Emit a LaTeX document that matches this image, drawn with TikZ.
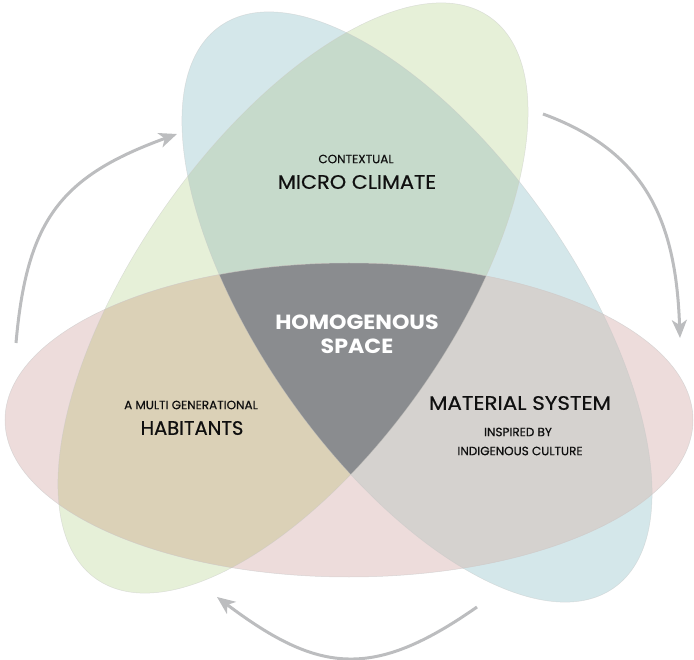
\documentclass[tikz,border=0pt]{standalone}
\usepackage{fontspec}
\setmainfont{Poppins}
\newfontfamily\medfont{Poppins}[FakeBold=0.5]
\usetikzlibrary{arrows.meta}
\definecolor{cBlue}{RGB}{212,231,234}
\definecolor{cGreen}{RGB}{230,240,216}
\definecolor{cPink}{RGB}{237,220,219}
\definecolor{cBG}{RGB}{198,218,203}
\definecolor{cGP}{RGB}{219,209,183}
\definecolor{cBP}{RGB}{213,210,207}
\definecolor{cAll}{RGB}{138,140,143}
\definecolor{cArrow}{RGB}{188,189,191}
\definecolor{cText}{RGB}{15,15,15}
\begin{document}
\begin{tikzpicture}[x=1pt,y=1pt,
  blueE/.style={rotate around={-55:(417,-307)}},
  greenE/.style={rotate around={55:(293,-298)}},
  edge/.style={draw=black!22,line width=0.5pt},
  arr/.style={draw=cArrow,line width=3pt,-{Stealth[length=18pt,width=15pt,inset=5pt]}},
  small/.style={text=cText,font=\medfont\fontsize{12}{14}\selectfont},
  big/.style={text=cText,font=\medfont\fontsize{19.5}{22}\selectfont},
  center/.style={text=white,font=\bfseries\fontsize{20.5}{23}\selectfont}]
\useasboundingbox (0,0) rectangle (694,-660);
% single regions
\fill[cBlue,blueE] (417,-307) ellipse [x radius=343,y radius=157];
\fill[cGreen,greenE] (293,-298) ellipse [x radius=343,y radius=157];
\fill[cPink] (349,-420) ellipse [x radius=344,y radius=157];
% pair overlaps
\begin{scope}
  \clip[blueE] (417,-307) ellipse [x radius=343,y radius=157];
  \fill[cBG,greenE] (293,-298) ellipse [x radius=343,y radius=157];
  \fill[cBP] (349,-420) ellipse [x radius=344,y radius=157];
\end{scope}
\begin{scope}
  \clip[greenE] (293,-298) ellipse [x radius=343,y radius=157];
  \fill[cGP] (349,-420) ellipse [x radius=344,y radius=157];
\end{scope}
% triple overlap
\begin{scope}
  \clip[blueE] (417,-307) ellipse [x radius=343,y radius=157];
  \clip[greenE] (293,-298) ellipse [x radius=343,y radius=157];
  \fill[cAll] (349,-420) ellipse [x radius=344,y radius=157];
\end{scope}
% faint outlines
\draw[edge,blueE,draw opacity=0.5] (417,-307) ellipse [x radius=343,y radius=157];
\draw[edge,greenE,draw opacity=0.5] (293,-298) ellipse [x radius=343,y radius=157];
\draw[edge,draw opacity=0.6] (349,-420) ellipse [x radius=344,y radius=157];
% texts
\node[small] (ctx) at (356,-159) {CONTEXTUAL};
\node[big] (micro) at (357,-182) {\scalebox{1.07}[1]{MICRO CLIMATE}};
\node[center] (homo) at (357,-322) {\scalebox{1.08}[1]{HOMOGENOUS}};
\node[center] (space) at (357,-346) {\scalebox{1.08}[1]{SPACE}};
\node[small] (multi) at (191,-405) {A MULTI GENERATIONAL};
\node[big] (hab) at (192,-428) {HABITANTS};
\node[big] (mat) at (520,-403) {\scalebox{1.1}[1]{MATERIAL SYSTEM}};
\node[small] (insp) at (518,-432) {INSPIRED BY};
\node[small] (indig) at (520,-451) {INDIGENOUS CULTURE};
% arrows
\coordinate (a1s) at (16,-343);
\coordinate (a1e) at (177,-134);
\coordinate (a2s) at (543,-114);
\coordinate (a2e) at (680,-338);
\coordinate (a3s) at (477,-607);
\coordinate (a3e) at (217,-597);
\draw[arr] (a1s) to[out=85,in=200,looseness=1.2] (a1e);
\draw[arr] (a2s) to[out=-20,in=92,looseness=1.1] (a2e);
\draw[arr] (a3s) to[out=215,in=-37,looseness=1.25] (a3e);
\end{tikzpicture}
\end{document}
